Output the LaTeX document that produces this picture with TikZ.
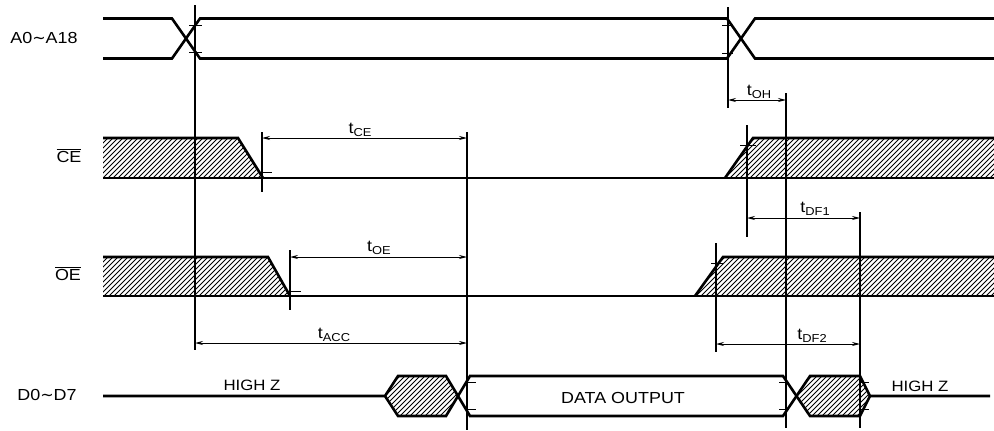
\documentclass[tikz,border=0pt]{standalone}
\usepackage{fontspec}
\setmainfont{Liberation Sans}[FakeStretch=1.12]
\newfontfamily\djv{DejaVu Sans}
\usetikzlibrary{arrows.meta}
\tikzset{
  sig/.style={line width=2.6pt, line join=miter},
  vline/.style={line width=1.2pt},
  dim/.style={line width=1pt, {Stealth[length=8pt,width=4pt]}-{Stealth[length=8pt,width=4pt]}},
  hatchline/.style={line width=0.8pt},
  lab/.style={inner sep=0pt, anchor=base, font=\fontsize{16}{19}\selectfont},
  hz/.style={inner sep=0pt, anchor=base, font=\fontsize{15}{18}\selectfont},
  tk/.style={line width=1pt}
}
\newcommand\tsub[1]{t\raisebox{-3pt}{\fontsize{11.5}{13}\selectfont #1}}
\newcommand\hatchfill[5]{%
  \begin{scope}
    \clip #1;
    \pgfmathtruncatemacro\hn{(#3-#2+#5-#4)/5+1}
    \foreach \k in {0,...,\hn}{
      \draw[hatchline] ({#2-(#5-#4)+5*\k},#5) -- ++({#5-#4},{-(#5-#4)});
    }
  \end{scope}}
\begin{document}
\begin{tikzpicture}[x=1pt,y=-1pt]
\useasboundingbox (0,0) rectangle (994,431);

% ---------- labels ----------
\node[lab] (lA)  at (44,43)  {A0{\djv\char"223C}A18};
\node[lab] (lCE) at (69,162) {$\overline{\hbox{CE}}$};
\node[lab] (lOE) at (68,280) {$\overline{\hbox{OE}}$};
\node[lab] (lD)  at (47,400) {D0{\djv\char"223C}D7};

% ---------- A0~A18 ----------
\draw[sig] (103,18.5) -- (172,18.5) -- (200,58.5) -- (727,58.5) -- (755,18.5) -- (994,18.5);
\draw[sig] (103,58.5) -- (172,58.5) -- (200,18.5) -- (727,18.5) -- (755,58.5) -- (994,58.5);

% ---------- CE ----------
\hatchfill{(103,138) -- (238,138) -- (263,178) -- (103,178) -- cycle}{103}{263}{138}{178}
\hatchfill{(725,178) -- (753,138) -- (994,138) -- (994,178) -- cycle}{725}{994}{138}{178}
\draw[sig] (103,138) -- (238,138) -- (263,178);
\draw[sig] (103,178) -- (994,178);
\draw[sig] (725,178) -- (753,138) -- (994,138);

% ---------- OE ----------
\hatchfill{(103,257) -- (268,257) -- (290,296) -- (103,296) -- cycle}{103}{290}{257}{296}
\hatchfill{(695,296) -- (723,257) -- (994,257) -- (994,296) -- cycle}{695}{994}{257}{296}
\draw[sig] (103,257) -- (268,257) -- (290,296);
\draw[sig] (103,296) -- (994,296);
\draw[sig] (695,296) -- (723,257) -- (994,257);

% ---------- D0~D7 ----------
\hatchfill{(385,396) -- (398,376) -- (446,376) -- (458,396) -- (446,416) -- (398,416) -- cycle}{385}{458}{376}{416}
\hatchfill{(797,396) -- (810,376) -- (860,376) -- (870,396) -- (860,416) -- (810,416) -- cycle}{797}{870}{376}{416}
\draw[sig] (103,396) -- (385,396) -- (398,376) -- (446,376) -- (470,416) -- (783,416) -- (810,376) -- (860,376) -- (870,396) -- (990,396);
\draw[sig] (385,396) -- (398,416) -- (446,416) -- (470,376) -- (783,376) -- (810,416) -- (860,416) -- (870,396);

\node[hz]  (hz1) at (252,390) {HIGH Z};
\node[hz]  (hz2) at (920,391) {HIGH Z};
\node[lab] (dout) at (623,403) {DATA OUTPUT};

% ---------- reference verticals ----------
\coordinate (v1a) at (195,5);   \coordinate (v1b) at (195,350);
\coordinate (v2a) at (728,7);   \coordinate (v2b) at (728,108);
\coordinate (v3a) at (786,93);  \coordinate (v3b) at (786,428);
\coordinate (v4a) at (262,132); \coordinate (v4b) at (262,192);
\coordinate (v5a) at (467,132); \coordinate (v5b) at (467,430);
\coordinate (v6a) at (747,125); \coordinate (v6b) at (747,237);
\coordinate (v7a) at (860,212); \coordinate (v7b) at (860,428);
\coordinate (v8a) at (290,250); \coordinate (v8b) at (290,310);
\coordinate (v9a) at (716,243); \coordinate (v9b) at (716,352);
\foreach \v in {1,...,9} \draw[vline] (v\v a) -- (v\v b);

% ---------- crossing ticks ----------
\foreach \xa/\xb/\yy in {189/202/25, 189/202/52, 722/733/25, 722/733/53,
  262/272/172, 290/301/291, 740/756/145, 711/723/263,
  467/476/382, 467/476/409, 779/788/382, 779/788/409, 860/869/382, 860/869/409}
  \draw[tk] (\xa,\yy) -- (\xb,\yy);

% ---------- dimension arrows ----------
\coordinate (oh1) at (728,100);  \coordinate (oh2) at (786,100);
\coordinate (ce1) at (262,138);  \coordinate (ce2) at (467,138);
\coordinate (oe1) at (290,257);  \coordinate (oe2) at (467,257);
\coordinate (df1a) at (747,218); \coordinate (df1b) at (860,218);
\coordinate (df2a) at (716,344); \coordinate (df2b) at (860,344);
\coordinate (acc1) at (195,343); \coordinate (acc2) at (467,343);
\draw[dim] (oh1) -- (oh2);
\draw[dim] (ce1) -- (ce2);
\draw[dim] (oe1) -- (oe2);
\draw[dim] (df1a) -- (df1b);
\draw[dim] (df2a) -- (df2b);
\draw[dim] (acc1) -- (acc2);

\node[lab] (tOH)  at (759,95)  {\tsub{OH}};
\node[lab] (tCE)  at (360,133) {\tsub{CE}};
\node[lab] (tOE)  at (379,251) {\tsub{OE}};
\node[lab] (tDF1) at (815,212) {\tsub{DF1}};
\node[lab] (tDF2) at (812,339) {\tsub{DF2}};
\node[lab] (tACC) at (334,338) {\tsub{ACC}};
\end{tikzpicture}
\end{document}
